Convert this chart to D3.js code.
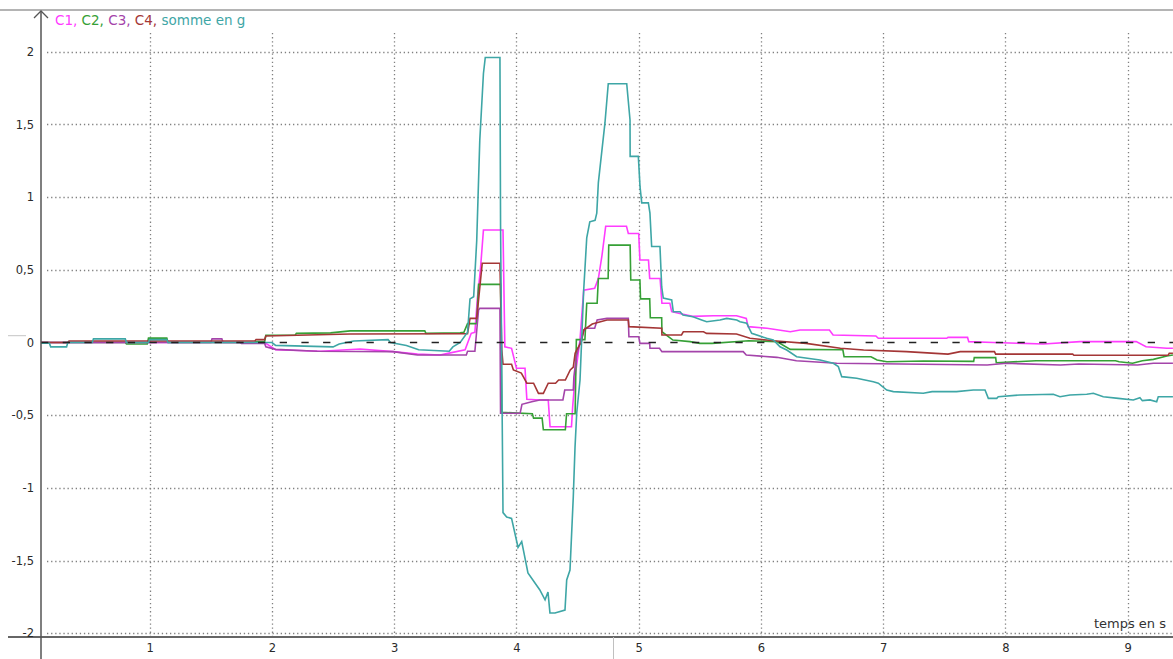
<!DOCTYPE html>
<html><head><meta charset="utf-8">
<script src="https://cdn.jsdelivr.net/npm/d3@7"></script>
<style>
html,body{margin:0;padding:0;background:#fff;}
svg{display:block;font-family:"DejaVu Sans",Verdana,sans-serif;}
</style></head>
<body>
<svg id="chart" width="1173" height="659"></svg>
<script>
// ---- data ----
const xTicks = [1,2,3,4,5,6,7,8,9];
const yTicks = [-2,-1.5,-1,-0.5,0,0.5,1,1.5,2];
const seriesNames = ["C1","C2","C3","C4","somme en g"];
const seriesColors = ["#ff3cff","#36a036","#a444aa","#a43636","#3ea6a6"];

const c1T = [0.11,1.94,2.03,2.4,2.72,2.99,3.19,3.375,3.44,3.58,3.63,3.66,3.68,3.705,3.73,3.89,3.905,3.96,4.0,4.07,4.085,4.19,4.26,4.275,4.45,4.46,4.48,4.52,4.55,4.64,4.67,4.7,4.73,4.9,4.915,5.0,5.01,5.08,5.09,5.175,5.19,5.255,5.27,5.44,5.61,5.8,5.88,5.895,6.05,6.24,6.32,6.56,6.59,6.94,6.96,7.52,7.53,7.69,7.70,7.9,8.31,8.61,9.07,9.15,9.32,9.37];
const c1V = [0,0,-0.05,-0.06,-0.045,-0.063,-0.08,-0.086,-0.075,-0.05,0.063,0.07,0.3,0.5,0.774,0.774,-0.03,-0.04,-0.177,-0.177,-0.39,-0.395,-0.395,-0.579,-0.579,-0.44,-0.235,0.02,0.36,0.373,0.44,0.6,0.8,0.8,0.75,0.75,0.567,0.567,0.44,0.44,0.27,0.27,0.212,0.18,0.184,0.184,0.166,0.109,0.098,0.074,0.086,0.086,0.052,0.045,0.029,0.029,0.035,0.035,0.006,0.0,-0.01,0.006,0.006,-0.029,-0.04,-0.04];

const c2T = [0.11,0.8,0.81,0.98,0.99,1.14,1.15,1.86,1.87,1.94,1.95,2.19,2.2,2.48,2.64,3.25,3.26,3.54,3.57,3.6,3.675,3.69,3.87,3.88,4.13,4.14,4.21,4.22,4.4,4.41,4.48,4.49,4.56,4.575,4.66,4.67,4.75,4.755,4.93,4.935,5.01,5.015,5.09,5.095,5.188,5.19,5.28,5.42,5.5,5.6,5.9,6.13,6.24,6.67,6.68,6.9,6.95,7.03,7.33,7.74,7.745,7.92,7.925,8.25,8.9,8.93,9.04,9.12,9.21,9.32,9.37];
const c2V = [0,0,-0.01,-0.01,0.03,0.03,0,0,0.006,0.006,0.05,0.05,0.063,0.066,0.08,0.08,0.063,0.066,0.07,0.13,0.13,0.40,0.40,-0.48,-0.49,-0.52,-0.52,-0.60,-0.60,-0.49,-0.49,0.02,0.02,0.27,0.27,0.44,0.44,0.67,0.67,0.43,0.43,0.30,0.30,0.17,0.17,0.074,0.017,0.006,-0.006,-0.006,0.012,0.006,-0.047,-0.05,-0.098,-0.098,-0.12,-0.132,-0.127,-0.13,-0.104,-0.104,-0.139,-0.125,-0.125,-0.132,-0.143,-0.125,-0.116,-0.093,-0.086];

const c3T = [0.11,1.5,1.51,1.59,1.6,1.74,1.75,1.94,1.95,2.03,2.37,2.99,3.19,3.59,3.6,3.66,3.69,3.70,3.865,3.87,4.03,4.045,4.125,4.19,4.38,4.395,4.465,4.47,4.49,4.52,4.56,4.64,4.66,4.74,4.915,4.92,5.0,5.01,5.09,5.092,5.17,5.19,5.855,5.88,6.13,6.29,6.62,7.85,8.01,8.45,8.6,9.08,9.21,9.37];
const c3V = [0,0,0.025,0.025,0,0,-0.006,-0.006,-0.03,-0.047,-0.06,-0.063,-0.086,-0.086,-0.06,-0.06,0.224,0.235,0.235,-0.487,-0.487,-0.425,-0.407,-0.395,-0.395,-0.327,-0.327,-0.235,-0.098,0.0,0.098,0.098,0.155,0.166,0.166,0.04,0.04,-0.006,-0.006,-0.04,-0.04,-0.063,-0.063,-0.086,-0.102,-0.125,-0.143,-0.155,-0.143,-0.155,-0.148,-0.155,-0.143,-0.143];

const c4T = [0.11,0.33,0.34,1.86,1.87,1.94,1.95,2.64,3.54,3.6,3.62,3.675,3.72,3.865,3.88,3.89,3.96,3.975,4.04,4.085,4.14,4.18,4.22,4.26,4.32,4.345,4.4,4.44,4.465,4.48,4.5,4.53,4.55,4.62,4.74,4.915,4.92,5.188,5.19,5.35,5.365,5.53,5.555,5.8,5.91,6.1,6.37,6.65,6.84,7.19,7.53,7.63,7.91,7.92,8.55,8.56,9.33,9.34,9.37];
const c4V = [0,0,0.01,0.01,0.02,0.02,0.045,0.058,0.06,0.06,0.166,0.166,0.545,0.545,-0.05,-0.15,-0.15,-0.189,-0.21,-0.28,-0.28,-0.35,-0.35,-0.28,-0.28,-0.258,-0.258,-0.189,-0.17,-0.074,-0.04,0.0,0.086,0.127,0.155,0.155,0.109,0.098,0.052,0.052,0.074,0.074,0.063,0.058,0.029,0.012,-0.006,-0.04,-0.052,-0.063,-0.08,-0.063,-0.063,-0.08,-0.08,-0.088,-0.088,-0.074,-0.074];

const sT = [0.11,0.18,0.19,0.32,0.33,0.53,0.54,0.80,0.81,0.99,1.0,1.14,1.15,2.0,2.03,2.5,2.55,2.67,2.95,2.97,3.1,3.2,3.45,3.48,3.54,3.6,3.62,3.65,3.675,3.70,3.73,3.745,3.865,3.87,3.89,3.92,3.96,4.0,4.013,4.043,4.094,4.19,4.234,4.258,4.274,4.315,4.397,4.411,4.438,4.465,4.479,4.493,4.52,4.55,4.575,4.60,4.643,4.657,4.67,4.724,4.751,4.902,4.929,4.93,4.997,5.011,5.025,5.079,5.092,5.106,5.174,5.188,5.201,5.27,5.283,5.338,5.362,5.444,5.515,5.556,5.665,5.72,5.802,5.829,5.884,5.924,6.047,6.101,6.156,6.211,6.292,6.483,6.592,6.633,6.661,6.783,6.919,6.96,7.029,7.083,7.328,7.4,7.6,7.737,7.833,7.86,7.929,7.941,8.119,8.391,8.446,8.528,8.665,8.719,8.8,8.923,9.046,9.1,9.12,9.182,9.237,9.25,9.37];
const sV = [-0.005,-0.005,-0.03,-0.03,0,0,0.025,0.025,0,0,0.02,0.02,0,0,-0.02,-0.03,-0.01,0.01,0.02,0.0,-0.02,-0.05,-0.06,-0.03,0,0.07,0.3,0.315,0.70,1.39,1.85,1.96,1.96,0.8,-1.17,-1.2,-1.21,-1.36,-1.41,-1.37,-1.585,-1.70,-1.77,-1.716,-1.86,-1.86,-1.84,-1.633,-1.565,-1.06,-0.723,-0.485,-0.258,0.36,0.72,0.83,0.84,0.89,1.1,1.51,1.78,1.78,1.53,1.28,1.28,1.07,0.96,0.96,0.89,0.66,0.66,0.384,0.306,0.293,0.212,0.212,0.189,0.177,0.155,0.143,0.155,0.166,0.155,0.143,0.132,0.063,0.029,0.017,-0.029,-0.052,-0.098,-0.12,-0.143,-0.166,-0.235,-0.246,-0.27,-0.28,-0.327,-0.338,-0.349,-0.338,-0.338,-0.327,-0.327,-0.384,-0.384,-0.373,-0.361,-0.356,-0.373,-0.361,-0.356,-0.349,-0.373,-0.384,-0.395,-0.38,-0.40,-0.395,-0.407,-0.373,-0.373];

const seriesT = [c1T,c2T,c3T,c4T,sT];
const seriesV = [c1V,c2V,c3V,c4V,sV];

// ---- drawing ----
const W = 1173, H = 659;
const svg = d3.select("#chart");
const x = d3.scaleLinear().domain([0, 9]).range([27.45, 1127.7]);
const y = d3.scaleLinear().domain([-2, 2]).range([633.3, 51.7]);
const axisX = 41, axisY = 637;
const fmt = d => String(d).replace(".", ",");

// top border line
svg.append("line").attr("x1",0).attr("x2",W).attr("y1",10).attr("y2",10)
  .attr("stroke","#b4b4b4").attr("stroke-width",2);

// grid
const grid = svg.append("g");
grid.selectAll("line.h").data(yTicks.filter(d=>d!==0)).enter().append("line")
  .attr("x1",axisX+6).attr("x2",W).attr("y1",d=>Math.round(y(d))+0.5).attr("y2",d=>Math.round(y(d))+0.5)
  .attr("stroke","#808080").attr("stroke-width",1.3).attr("stroke-dasharray","1.3,2.8");
grid.selectAll("line.v").data(xTicks).enter().append("line")
  .attr("y1",33).attr("y2",axisY).attr("x1",d=>Math.round(x(d))+0.5).attr("x2",d=>Math.round(x(d))+0.5)
  .attr("stroke","#808080").attr("stroke-width",1.3).attr("stroke-dasharray","1.3,2.8");

// clip
svg.append("clipPath").attr("id","clip").append("rect")
  .attr("x",axisX).attr("y",12).attr("width",W-axisX).attr("height",axisY-12);

// series
const line = d3.line().x(d=>x(d[0])).y(d=>y(d[1]));
const plot = svg.append("g").attr("clip-path","url(#clip)");
seriesT.forEach((ts,i)=>{
  const pts = ts.map((t,j)=>[t, seriesV[i][j]]);
  plot.append("path").datum(pts).attr("d",line)
    .attr("fill","none").attr("stroke",seriesColors[i]).attr("stroke-width",1.6)
    .attr("stroke-linejoin","miter");
});

// dashed zero line
svg.append("line").attr("x1",axisX).attr("x2",W).attr("y1",y(0)).attr("y2",y(0))
  .attr("stroke","#222").attr("stroke-width",1.6).attr("stroke-dasharray","7.3,14.4");

// small grey mark near 0
svg.append("line").attr("x1",8).attr("x2",26).attr("y1",335.7).attr("y2",335.7)
  .attr("stroke","#c4c4c4").attr("stroke-width",1);

// axes
svg.append("line").attr("x1",8).attr("x2",W).attr("y1",axisY).attr("y2",axisY)
  .attr("stroke","#666").attr("stroke-width",2);
svg.append("line").attr("x1",axisX).attr("x2",axisX).attr("y1",11).attr("y2",H)
  .attr("stroke","#555").attr("stroke-width",1.5);
svg.append("path").attr("d",`M${axisX-7},18 L${axisX},11 L${axisX+7},18`)
  .attr("fill","none").attr("stroke","#555").attr("stroke-width",1.3);
// cursor mark
svg.append("line").attr("x1",613.5).attr("x2",613.5).attr("y1",axisY).attr("y2",H)
  .attr("stroke","#c0c0c0").attr("stroke-width",1);

const yAxis = svg.append("g").attr("transform",`translate(${axisX},0)`)
  .call(d3.axisLeft(y).tickValues(yTicks).tickFormat(fmt).tickSize(0).tickPadding(7));
yAxis.select(".domain").remove();
yAxis.selectAll("text").attr("font-size",11.5).attr("fill","#2a2a2a").attr("font-family","DejaVu Sans, sans-serif");

const xAxis = svg.append("g").attr("transform",`translate(0,${axisY})`)
  .call(d3.axisBottom(x).tickValues(xTicks).tickFormat(d3.format("d")).tickSize(0).tickPadding(7));
xAxis.select(".domain").remove();
xAxis.selectAll("text").attr("font-size",11.5).attr("fill","#2a2a2a").attr("font-family","DejaVu Sans, sans-serif");

// x axis title
svg.append("text").attr("x",1166).attr("y",628).attr("text-anchor","end")
  .attr("font-size",13).attr("fill","#333").text("temps en s");

// legend
const leg = svg.append("text").attr("x",55).attr("y",25).attr("font-size",13.5);
seriesNames.forEach((n,i)=>{
  leg.append("tspan").attr("fill",seriesColors[i]).text(n + (i<seriesNames.length-1 ? ", " : ""));
});
</script>
</body></html>
